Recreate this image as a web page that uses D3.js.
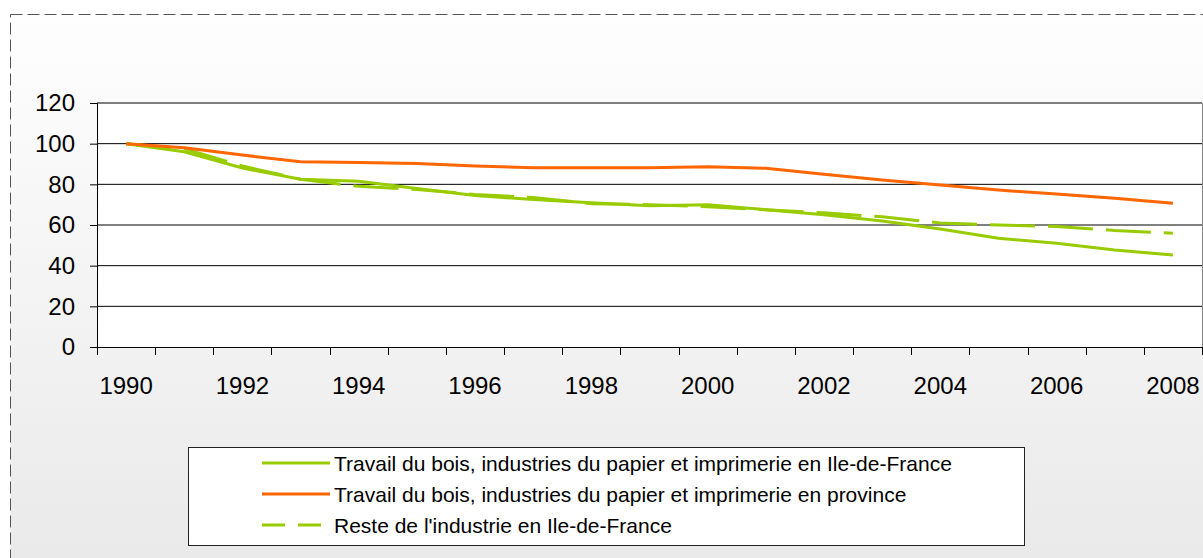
<!DOCTYPE html>
<html><head><meta charset="utf-8">
<script src="https://cdn.jsdelivr.net/npm/d3@7"></script>
<style>html,body{margin:0;padding:0;background:#fff;}svg{display:block;}</style>
</head><body>
<script>
const years = [1990,1991,1992,1993,1994,1995,1996,1997,1998,1999,2000,2001,2002,2003,2004,2005,2006,2007,2008];
const boisIdF = [100,96,88,82.5,81.5,78,74.5,72.5,71,69.5,70,67.5,65,62,58,53.5,51,47.7,45.2];
const boisProvince = [100,98,94.4,91.1,90.7,90.3,89,88.2,88.2,88.2,88.7,87.9,85,82.1,79.7,77.2,75.2,73.1,70.7];
const resteIdF = [100,97.5,89,82.5,79,77.5,75,73.5,70.5,70,69,67.5,66,64,61,60,59.3,57.3,56];
const yTicks = [0,20,40,60,80,100,120];
const xLabelYears = [1990,1992,1994,1996,1998,2000,2002,2004,2006,2008];
const seriesNames = [
  "Travail du bois, industries du papier et imprimerie en Ile-de-France",
  "Travail du bois, industries du papier et imprimerie en province",
  "Reste de l'industrie en Ile-de-France"
];
const seriesColors = ["#99cc00","#ff6600","#99cc00"];
const seriesDash = [null, null, "45,13"];
const legendDash = [null, null, "23,13"];
const seriesData = [boisIdF, boisProvince, resteIdF];

(function(){
const W = 1203, H = 558;
const FONT = "'Liberation Sans', Arial, sans-serif";
const svg = d3.select("body").append("svg").attr("width", W).attr("height", H);
const defs = svg.append("defs");
const grad = defs.append("linearGradient").attr("id","bg").attr("x1",0).attr("y1",0).attr("x2",0).attr("y2",1);
grad.append("stop").attr("offset","0%").attr("stop-color","#fefefe");
grad.append("stop").attr("offset","100%").attr("stop-color","#e9e9e9");

svg.append("rect").attr("x",0).attr("y",0).attr("width",W).attr("height",H).attr("fill","#fff");
svg.append("rect").attr("x",10.5).attr("y",14.5).attr("width",W).attr("height",H)
  .attr("fill","url(#bg)").attr("stroke","#555").attr("stroke-width",1).attr("stroke-dasharray","12,5");

const pl = 97, pr = 1202, pt = 103, pb = 347;
const x = d3.scaleBand().domain(years).range([pl, pr]).padding(0);
const y = d3.scaleLinear().domain([0,120]).range([pb, pt]);
const cx = d => x(d) + x.bandwidth()/2;

svg.append("rect").attr("x",pl).attr("y",pt).attr("width",pr-pl).attr("height",pb-pt).attr("fill","#fff");

svg.append("g").selectAll("line").data(yTicks.filter(t => t > 0)).join("line")
  .attr("x1",pl).attr("x2",pr).attr("y1",d=>y(d)).attr("y2",d=>y(d))
  .attr("stroke","#000").attr("stroke-width",1);
svg.append("line").attr("x1",pr+0.5).attr("x2",pr+0.5).attr("y1",pt).attr("y2",pb)
  .attr("stroke","#888").attr("stroke-width",1);

const yAxis = svg.append("g").attr("transform",`translate(${pl},0)`)
  .call(d3.axisLeft(y).tickValues(yTicks).tickSize(7).tickPadding(15));
yAxis.select(".domain").attr("stroke","#000");
yAxis.selectAll(".tick line").attr("stroke","#000");
yAxis.selectAll("text").attr("font-family",FONT).attr("font-size",24).attr("fill","#000");

svg.append("line").attr("x1",pl).attr("x2",pr).attr("y1",pb+0.5).attr("y2",pb+0.5).attr("stroke","#000");
const bounds = years.map(d => x(d)).concat([x(years[years.length-1]) + x.bandwidth()]);
svg.append("g").selectAll("line").data(bounds).join("line")
  .attr("x1",d=>Math.round(d)+0.5).attr("x2",d=>Math.round(d)+0.5)
  .attr("y1",pb).attr("y2",pb+8).attr("stroke","#000");
svg.append("g").selectAll("text").data(xLabelYears).join("text")
  .attr("x",d=>cx(d)).attr("y",385).attr("text-anchor","middle").attr("dominant-baseline","central")
  .attr("font-family",FONT).attr("font-size",24).attr("fill","#000")
  .text(d=>d);

const line = d3.line().x((d,i)=>cx(years[i])).y(d=>y(d));
[2,0,1].forEach(k => {
  svg.append("path").datum(seriesData[k]).attr("d",line).attr("fill","none")
    .attr("stroke",seriesColors[k]).attr("stroke-width",3)
    .attr("stroke-dasharray",seriesDash[k]);
});

const lg = svg.append("g");
lg.append("rect").attr("x",188.5).attr("y",447.5).attr("width",836).attr("height",98)
  .attr("fill","#fff").attr("stroke","#222").attr("stroke-width",1);
const rowY = [463, 494, 525];
seriesNames.forEach((name,i) => {
  lg.append("line").attr("x1",262).attr("x2",330).attr("y1",rowY[i]).attr("y2",rowY[i])
    .attr("stroke",seriesColors[i]).attr("stroke-width",3).attr("stroke-dasharray",legendDash[i]);
  lg.append("text").attr("x",334).attr("y",rowY[i]).attr("dominant-baseline","central")
    .attr("font-family",FONT).attr("font-size",21).attr("fill","#000")
    .text(name);
});
})();
</script>
</body></html>
